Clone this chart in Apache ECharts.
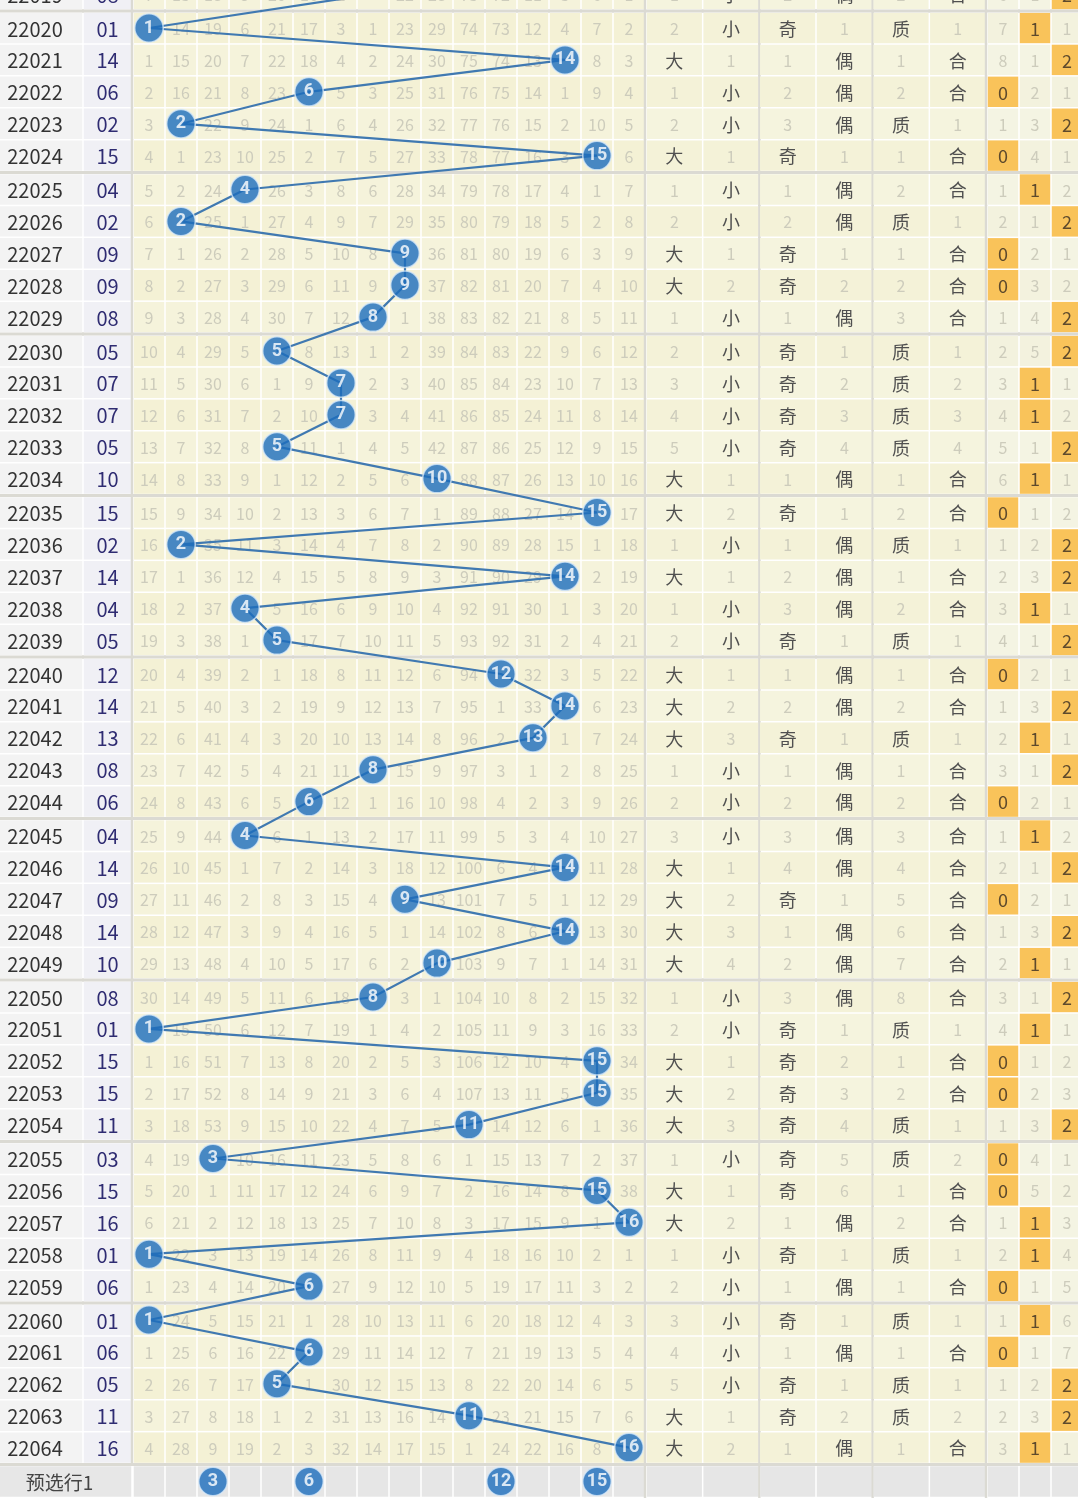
<!DOCTYPE html>
<html><head><meta charset="utf-8">
<script src="https://cdn.jsdelivr.net/npm/echarts@6/dist/echarts.min.js"></script>
<style>html,body{margin:0;padding:0;background:#fff}#c{width:1078px;height:1510px}</style>
</head><body><div id="c"></div>
<script>
// ---------------- DATA ----------------
const issues = ['22019','22020','22021','22022','22023','22024','22025','22026','22027','22028','22029',
 '22030','22031','22032','22033','22034','22035','22036','22037','22038','22039',
 '22040','22041','22042','22043','22044','22045','22046','22047','22048','22049',
 '22050','22051','22052','22053','22054','22055','22056','22057','22058','22059',
 '22060','22061','22062','22063','22064'];
const draws = ['08','01','14','06','02','15','04','02','09','09','08',
 '05','07','07','05','10','15','02','14','04','05',
 '12','14','13','08','06','04','14','09','14','10',
 '08','01','15','15','11','03','15','16','01','06',
 '01','06','05','11','16'];
const numCols = ['01','02','03','04','05','06','07','08','09','10','11','12','13','14','15','16'];
// omission values per row (0 = drawn, shown as a circle)
const miss = [
 [7,13,18,5,20,16,2,0,22,28,73,72,11,3,6,1],
 [0,14,19,6,21,17,3,1,23,29,74,73,12,4,7,2],
 [1,15,20,7,22,18,4,2,24,30,75,74,13,0,8,3],
 [2,16,21,8,23,0,5,3,25,31,76,75,14,1,9,4],
 [3,0,22,9,24,1,6,4,26,32,77,76,15,2,10,5],
 [4,1,23,10,25,2,7,5,27,33,78,77,16,3,0,6],
 [5,2,24,0,26,3,8,6,28,34,79,78,17,4,1,7],
 [6,0,25,1,27,4,9,7,29,35,80,79,18,5,2,8],
 [7,1,26,2,28,5,10,8,0,36,81,80,19,6,3,9],
 [8,2,27,3,29,6,11,9,0,37,82,81,20,7,4,10],
 [9,3,28,4,30,7,12,0,1,38,83,82,21,8,5,11],
 [10,4,29,5,0,8,13,1,2,39,84,83,22,9,6,12],
 [11,5,30,6,1,9,0,2,3,40,85,84,23,10,7,13],
 [12,6,31,7,2,10,0,3,4,41,86,85,24,11,8,14],
 [13,7,32,8,0,11,1,4,5,42,87,86,25,12,9,15],
 [14,8,33,9,1,12,2,5,6,0,88,87,26,13,10,16],
 [15,9,34,10,2,13,3,6,7,1,89,88,27,14,0,17],
 [16,0,35,11,3,14,4,7,8,2,90,89,28,15,1,18],
 [17,1,36,12,4,15,5,8,9,3,91,90,29,0,2,19],
 [18,2,37,0,5,16,6,9,10,4,92,91,30,1,3,20],
 [19,3,38,1,0,17,7,10,11,5,93,92,31,2,4,21],
 [20,4,39,2,1,18,8,11,12,6,94,0,32,3,5,22],
 [21,5,40,3,2,19,9,12,13,7,95,1,33,0,6,23],
 [22,6,41,4,3,20,10,13,14,8,96,2,0,1,7,24],
 [23,7,42,5,4,21,11,0,15,9,97,3,1,2,8,25],
 [24,8,43,6,5,0,12,1,16,10,98,4,2,3,9,26],
 [25,9,44,0,6,1,13,2,17,11,99,5,3,4,10,27],
 [26,10,45,1,7,2,14,3,18,12,100,6,4,0,11,28],
 [27,11,46,2,8,3,15,4,0,13,101,7,5,1,12,29],
 [28,12,47,3,9,4,16,5,1,14,102,8,6,0,13,30],
 [29,13,48,4,10,5,17,6,2,0,103,9,7,1,14,31],
 [30,14,49,5,11,6,18,0,3,1,104,10,8,2,15,32],
 [0,15,50,6,12,7,19,1,4,2,105,11,9,3,16,33],
 [1,16,51,7,13,8,20,2,5,3,106,12,10,4,0,34],
 [2,17,52,8,14,9,21,3,6,4,107,13,11,5,0,35],
 [3,18,53,9,15,10,22,4,7,5,0,14,12,6,1,36],
 [4,19,0,10,16,11,23,5,8,6,1,15,13,7,2,37],
 [5,20,1,11,17,12,24,6,9,7,2,16,14,8,0,38],
 [6,21,2,12,18,13,25,7,10,8,3,17,15,9,1,0],
 [0,22,3,13,19,14,26,8,11,9,4,18,16,10,2,1],
 [1,23,4,14,20,0,27,9,12,10,5,19,17,11,3,2],
 [0,24,5,15,21,1,28,10,13,11,6,20,18,12,4,3],
 [1,25,6,16,22,0,29,11,14,12,7,21,19,13,5,4],
 [2,26,7,17,0,1,30,12,15,13,8,22,20,14,6,5],
 [3,27,8,18,1,2,31,13,16,14,0,23,21,15,7,6],
 [4,28,9,19,2,3,32,14,17,15,1,24,22,16,8,0]
];
const attrCols = ['大','小','奇','偶','质','合'];
const attrMiss = [
 [1,0,2,0,2,0],[2,0,0,1,0,1],[0,1,1,0,1,0],[1,0,2,0,2,0],[2,0,3,0,0,1],[0,1,0,1,1,0],
 [1,0,1,0,2,0],[2,0,2,0,0,1],[0,1,0,1,1,0],[0,2,0,2,2,0],[1,0,1,0,3,0],
 [2,0,0,1,0,1],[3,0,0,2,0,2],[4,0,0,3,0,3],[5,0,0,4,0,4],[0,1,1,0,1,0],
 [0,2,0,1,2,0],[1,0,1,0,0,1],[0,1,2,0,1,0],[1,0,3,0,2,0],[2,0,0,1,0,1],
 [0,1,1,0,1,0],[0,2,2,0,2,0],[0,3,0,1,0,1],[1,0,1,0,1,0],[2,0,2,0,2,0],
 [3,0,3,0,3,0],[0,1,4,0,4,0],[0,2,0,1,5,0],[0,3,1,0,6,0],[0,4,2,0,7,0],
 [1,0,3,0,8,0],[2,0,0,1,0,1],[0,1,0,2,1,0],[0,2,0,3,2,0],[0,3,0,4,0,1],
 [1,0,0,5,0,2],[0,1,0,6,1,0],[0,2,1,0,2,0],[1,0,0,1,0,1],[2,0,1,0,1,0],
 [3,0,0,1,0,1],[4,0,1,0,1,0],[5,0,0,1,0,1],[0,1,0,2,0,2],[0,2,1,0,1,0]
];
const modCols = ['0','1','2'];
const modMiss = [
 [6,1,0],[7,0,1],[8,1,0],[0,2,1],[1,3,0],[0,4,1],
 [1,0,2],[2,1,0],[0,2,1],[0,3,2],[1,4,0],
 [2,5,0],[3,0,1],[4,0,2],[5,1,0],[6,0,1],
 [0,1,2],[1,2,0],[2,3,0],[3,0,1],[4,1,0],
 [0,2,1],[1,3,0],[2,0,1],[3,1,0],[0,2,1],
 [1,0,2],[2,1,0],[0,2,1],[1,3,0],[2,0,1],
 [3,1,0],[4,0,1],[0,1,2],[0,2,3],[1,3,0],
 [0,4,1],[0,5,2],[1,0,3],[2,0,4],[0,1,5],
 [1,0,6],[0,1,7],[1,2,0],[2,3,0],[3,0,1]
];
const presetLabel = '预选行1';
const presetNums = [3, 6, 12, 15];

// ---------------- LAYOUT ----------------
const RH = 31.9;            // row height px
const GAP = 2 / RH;         // group separator in row units
const FIRST_Y = 28;         // pixel centre of row index 0
const YMIN = -FIRST_Y / RH, YMAX = YMIN + 1510 / RH;
const PRESET_I = 45;
function rowPos(i) { return i + GAP * Math.floor(i / 5); }
const F = '"Noto Sans CJK SC","Noto Sans",sans-serif';
const SEP = '#dbdad3';
const OMIT = '#cdccbc';

const grids = [
  {left: -13, width: 96},   // issue
  {left: 83, width: 49},    // number
  {left: 133, width: 512},  // 16 balls
  {left: 646, width: 340},  // attributes
  {left: 987, width: 96}    // mod 3
];
const xCats = [['期号'], ['号码'], numCols, attrCols, modCols];

function makeCells(metaList) {
  return function (params, api) {
    const m = metaList[params.dataIndex];
    const c = api.coord([api.value(0), api.value(1)]);
    const sz = api.size([1, 1]);
    const w = sz[0], h = sz[1], g = GAP * h;
    const ch = [];
    const extra = m.extraW || 0;
    ch.push({type: 'rect', shape: {x: c[0] - w / 2 + 0.75, y: c[1] - h / 2 + 0.75, width: w + extra - 1.5, height: h - 1.5}, style: {fill: m.bg}});
    if (m.sepTop) ch.push({type: 'rect', shape: {x: c[0] - w / 2 - 1, y: c[1] - h / 2 - g - 0.5, width: w + extra + 2, height: g + 1}, style: {fill: SEP}});
    if (m.sepRight) ch.push({type: 'rect', shape: {x: c[0] + w / 2 - 1.2, y: c[1] - h / 2 - 0.5, width: 2.4, height: h + 1}, style: {fill: SEP}});
    if (m.text) ch.push({type: 'text', style: {text: m.text, x: c[0] + extra / 2, y: c[1] + 1, align: 'center', verticalAlign: 'middle', textAlign: 'center', textVerticalAlign: 'middle', fill: m.color, font: m.font}});
    return {type: 'group', children: ch};
  };
}

const series = [];
function addCells(gi, items) {
  series.push({type: 'custom', xAxisIndex: gi, yAxisIndex: gi, silent: true, clip: false, z: 1,
    data: items.map(d => d.value), renderItem: makeCells(items)});
}

// issue & number columns
const issueItems = [], numItems = [];
issues.forEach((s, k) => {
  const i = k - 1, p = rowPos(i), top = (i % 5 === 0);
  issueItems.push({value: [0, p], text: s, bg: '#f3f3f3', color: '#333', font: '20px ' + F, sepTop: top});
  numItems.push({value: [0, p], text: draws[k], bg: '#f0f0f5', color: '#2f2c72', font: '20px ' + F, sepTop: top, sepRight: true});
});
issueItems.push({value: [0, rowPos(PRESET_I)], text: presetLabel, bg: '#e7e7e7', color: '#444', font: '19px ' + F, sepTop: true, extraW: 49});
addCells(0, issueItems);
addCells(1, numItems);

// 16-ball area
const ballItems = [];
miss.forEach((row, k) => {
  const i = k - 1, p = rowPos(i);
  row.forEach((v, c) => {
    ballItems.push({value: [c, p], text: v === 0 ? '' : String(v), bg: (k % 2 ? '#f4f1d5' : '#f5f3db'), color: OMIT,
      font: '16px ' + F, sepTop: i % 5 === 0, sepRight: c === 15});
  });
});
numCols.forEach((n, c) => ballItems.push({value: [c, rowPos(PRESET_I)], text: '', bg: '#e6e6e6', sepTop: true, sepRight: c === 15}));
addCells(2, ballItems);

// attribute area
const attrItems = [];
attrMiss.forEach((row, k) => {
  const i = k - 1, p = rowPos(i);
  row.forEach((v, c) => {
    attrItems.push({value: [c, p], text: v === 0 ? attrCols[c] : String(v), bg: (k % 2 ? '#f4f2d8' : '#f5f4de'),
      color: v === 0 ? '#505050' : OMIT, font: (v === 0 ? '18px ' : '16px ') + F, sepTop: i % 5 === 0, sepRight: c % 2 === 1});
  });
});
attrCols.forEach((n, c) => attrItems.push({value: [c, rowPos(PRESET_I)], text: '', bg: '#e6e6e6', sepTop: true, sepRight: c % 2 === 1}));
addCells(3, attrItems);

// mod-3 area
const modItems = [];
modMiss.forEach((row, k) => {
  const i = k - 1, p = rowPos(i);
  row.forEach((v, c) => {
    modItems.push({value: [c, p], text: v === 0 ? modCols[c] : String(v), bg: v === 0 ? '#f9c35a' : (k % 2 ? '#f3f2de' : '#f4f4e3'),
      color: v === 0 ? '#5e4a2c' : OMIT, font: (v === 0 ? '18px ' : '16px ') + F, sepTop: i % 5 === 0});
  });
});
modCols.forEach((n, c) => modItems.push({value: [c, rowPos(PRESET_I)], text: '', bg: '#e6e6e6', sepTop: true}));
addCells(4, modItems);

// trend line + circles
const linePts = draws.map((d, k) => [parseInt(d, 10) - 1, rowPos(k - 1)]);
series.push({type: 'line', xAxisIndex: 2, yAxisIndex: 2, data: linePts, showSymbol: false, symbol: 'none', z: 3,
  lineStyle: {color: '#4079b1', width: 2.2}, silent: true, animation: false});
const circlePts = draws.map((d, k) => [parseInt(d, 10) - 1, rowPos(k - 1), String(parseInt(d, 10))]);
presetNums.forEach(n => circlePts.push([n - 1, rowPos(PRESET_I), String(n)]));
series.push({type: 'scatter', xAxisIndex: 2, yAxisIndex: 2, data: circlePts, symbol: 'circle', symbolSize: 28.5, z: 4, silent: true,
  itemStyle: {color: '#1b6dbd', borderColor: 'rgba(220,235,250,0.95)', borderWidth: 1.5},
  label: {show: true, position: 'inside', formatter: p => p.value[2], color: '#fff', fontSize: 18, fontWeight: 'bold', fontFamily: 'Roboto, ' + F}});

const chart = echarts.init(document.getElementById('c'), null, {renderer: 'canvas'});
chart.setOption({
  animation: false,
  backgroundColor: '#ffffff',
  grid: grids.map(g => ({left: g.left, width: g.width, top: 0, height: 1510, containLabel: false, outerBoundsMode: 'none'})),
  xAxis: xCats.map((cats, gi) => ({gridIndex: gi, type: 'category', data: cats, show: false, boundaryGap: true})),
  yAxis: grids.map((g, gi) => ({gridIndex: gi, type: 'value', inverse: true, min: YMIN, max: YMAX, show: false})),
  series: series
});
</script></body></html>
